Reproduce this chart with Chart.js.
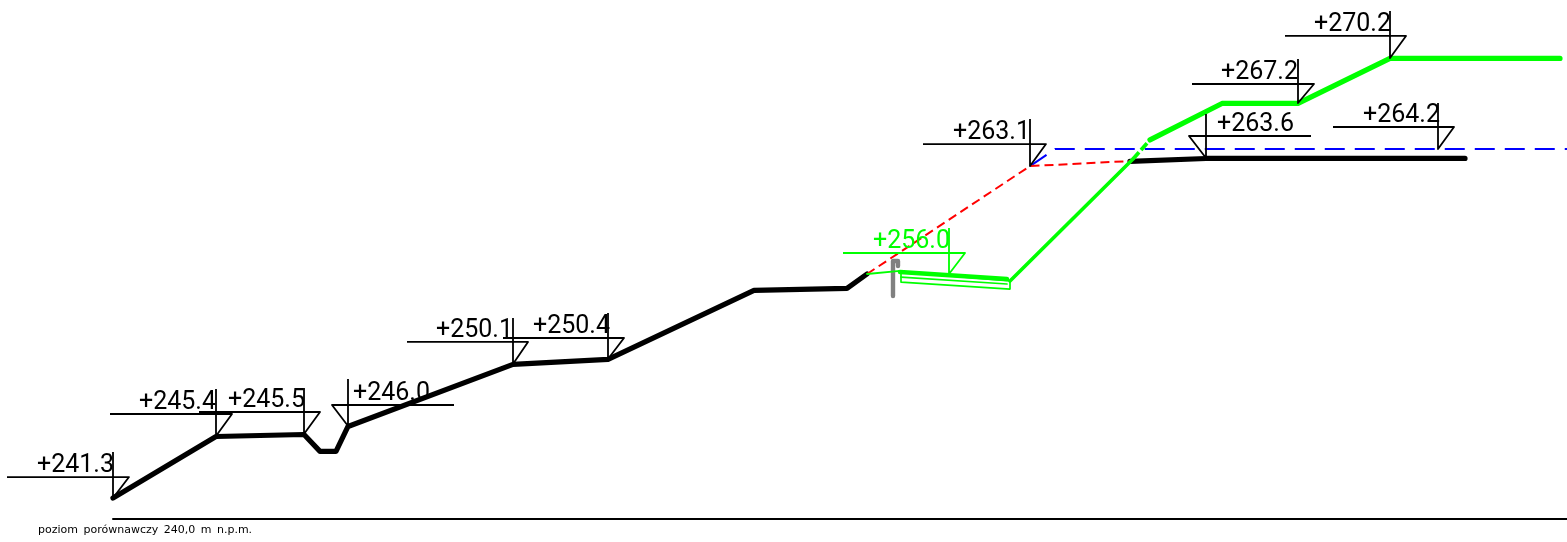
<!DOCTYPE html>
<html>
<head>
<meta charset="utf-8">
<title>poziom porównawczy</title>
<script src="https://cdn.jsdelivr.net/npm/chart.js@4"></script>
<style>
    html, body { margin: 0; padding: 0; background: #fff; overflow: hidden; }
    canvas { display: block; }
</style>
</head>
<body>
<canvas id="myChart" width="1567" height="542"></canvas>
<script>
// profile lines: x = chainage, y = elevation (m n.p.m.)
const terrainLeftX = [113, 216, 304, 320, 336, 348, 513, 608, 754, 847, 867];
const terrainLeftY = [241.25, 245.30, 245.43, 244.32, 244.32, 245.96, 250.04, 250.37, 254.91, 255.04, 255.99];
const terrainRightX = [1130, 1206, 1465];
const terrainRightY = [263.40, 263.59, 263.59];
const oldSlopeX = [867, 1030, 1130];
const oldSlopeY = [255.99, 263.09, 263.42];
const waterX = [1030, 1055, 1567];
const waterY = [263.09, 264.21, 264.21];
const baseX = [113, 1567];
const baseY = [239.87, 239.87];

const greenThinX = [867, 900];
const greenThinY = [255.99, 256.19];
const benchX = [900, 1007];
const benchY = [256.12, 255.66];
const benchBoxX = [901, 901, 1010, 1010, 901];
const benchBoxY = [256.12, 255.46, 255.00, 255.53, 256.12];
const benchInnerX = [901, 1007];
const benchInnerY = [255.79, 255.33];
const slopeX = [1010, 1133];
const slopeY = [255.53, 263.56];
const slopeDashX = [1133, 1150];
const slopeDashY = [263.56, 264.81];
const topX = [1150, 1222, 1298, 1390, 1560];
const topY = [264.81, 267.21, 267.21, 270.17, 270.17];
const postX = [898, 898, 893, 893];
const postY = [256.52, 256.84, 256.84, 254.54];

// elevation marks
const markLabels = ["+241.3", "+245.4", "+245.5", "+246.0", "+250.1", "+250.4", "+256.0", "+263.1", "+263.6", "+264.2", "+267.2", "+270.2"];
const markTipX = [113, 216, 304, 348, 513, 608, 949, 1030, 1206, 1438, 1298, 1390];
const markTipY = [241.25, 245.33, 245.46, 245.99, 250.07, 250.40, 255.99, 263.09, 263.62, 264.21, 267.24, 270.2];
const markBarY = [242.63, 246.78, 246.91, 247.37, 251.52, 251.78, 257.37, 264.54, 265.07, 265.66, 268.49, 271.65];
const markTopY = [244.28, 248.42, 248.49, 249.08, 253.09, 253.42, 259.02, 266.19, 266.52, 267.24, 270.13, 273.29];
const markFarX = [7, 110, 199, 454, 407, 503, 843, 923, 1311, 1333, 1192, 1285];
const markCornerX = [129, 232, 320, 332, 528, 624, 965, 1046, 1189, 1454, 1314, 1406];
const markTextX = [37, 139, 228, 353, 436, 533, 873, 953, 1217, 1363, 1221, 1314];
const markColors = ["#000", "#000", "#000", "#000", "#000", "#000", "#00ff00", "#000", "#000", "#000", "#000", "#000"];

const noteText = "poziom porównawczy 240,0 m n.p.m.";
const noteX = 38;
const noteY = 238.95;

function points(xs, ys) {
    return xs.map(function(x, i) {
        return { x: x, y: ys[i] };
    });
}

function line(xs, ys, color, width, dash) {
    return {
        data: points(xs, ys),
        borderColor: color,
        borderWidth: width,
        borderDash: dash || [],
        borderCapStyle: dash ? "butt" : "round",
        borderJoinStyle: "round",
        showLine: true,
        fill: false,
        tension: 0,
        pointRadius: 0
    };
}

// first dataset ends up on top
var datasets = [];
markLabels.forEach(function(label, i) {
    var xs = [markFarX[i], markCornerX[i], markTipX[i], markTipX[i]];
    var ys = [markBarY[i], markBarY[i], markTipY[i], markTopY[i]];
    var ds = line(xs, ys, markColors[i], 1.8);
    ds.borderCapStyle = "butt";
    datasets.push(ds);
});
datasets.push(line(topX, topY, "#00ff00", 5.2));
datasets.push(line(slopeDashX, slopeDashY, "#00ff00", 3.8, [9, 3]));
datasets.push(line(slopeX, slopeY, "#00ff00", 3.6));
datasets.push(line(benchX, benchY, "#00ff00", 4.6));
datasets.push(line(benchBoxX, benchBoxY, "#00ff00", 1.7));
datasets.push(line(benchInnerX, benchInnerY, "#00ff00", 1.7));
datasets.push(line(greenThinX, greenThinY, "#00ff00", 1.8));
datasets.push(line(postX, postY, "#808080", 4.4));
datasets.push(line(oldSlopeX, oldSlopeY, "#ff0000", 2, [9, 5]));
datasets.push(line(waterX, waterY, "#0000ff", 2, [20, 10]));
datasets.push(line(terrainLeftX, terrainLeftY, "#000", 5.2));
datasets.push(line(terrainRightX, terrainRightY, "#000", 5.2));
datasets.push(line(baseX, baseY, "#000", 2));

// labels go through the same scales as the lines
const textPlugin = {
    id: "markText",
    afterDatasetsDraw: function(chart) {
        var ctx = chart.ctx;
        var sx = chart.scales.x;
        var sy = chart.scales.y;
        ctx.save();
        ctx.textBaseline = "alphabetic";
        ctx.textAlign = "left";
        ctx.font = "400 25px Roboto";
        markLabels.forEach(function(label, i) {
            ctx.fillStyle = markColors[i];
            ctx.fillText(label, sx.getPixelForValue(markTextX[i]), sy.getPixelForValue(markBarY[i]) - 5);
        });
        ctx.fillStyle = "#000";
        ctx.font = "11px 'DejaVu Sans'";
        ctx.wordSpacing = "2px";
        ctx.fillText(noteText, sx.getPixelForValue(noteX), sy.getPixelForValue(noteY));
        ctx.restore();
    }
};

const myChart = new Chart(document.getElementById("myChart"), {
    type: "scatter",
    data: { datasets: datasets },
    plugins: [textPlugin],
    options: {
        responsive: false,
        animation: false,
        devicePixelRatio: 1,
        layout: { padding: 0 },
        plugins: {
            legend: { display: false },
            tooltip: { enabled: false },
            title: { display: false }
        },
        scales: {
            x: { type: "linear", display: false, min: 0, max: 1567 },
            y: { type: "linear", display: false, min: 238.358, max: 274.016 }
        }
    }
});
</script>
</body>
</html>
